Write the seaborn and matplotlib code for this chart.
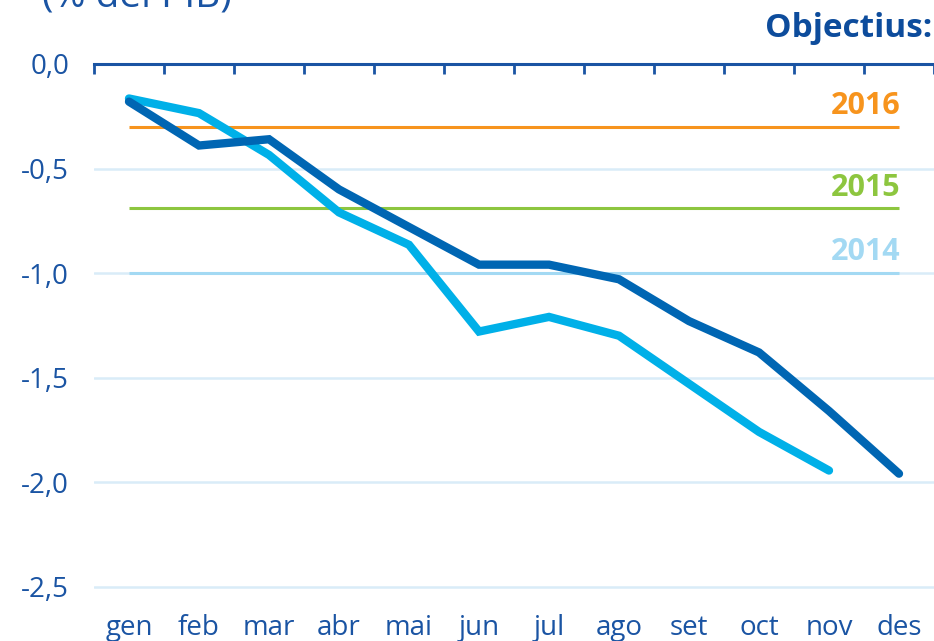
import numpy as np
import pandas as pd
import seaborn as sns
import matplotlib.pyplot as plt

# dades (% del PIB)
mesos = ['gen', 'feb', 'mar', 'abr', 'mai', 'jun', 'jul', 'ago', 'set', 'oct', 'nov', 'des']
serie_fosca = [-0.18, -0.39, -0.36, -0.60, -0.78, -0.96, -0.96, -1.03, -1.23, -1.38, -1.66, -1.96]
serie_clara = [-0.165, -0.235, -0.435, -0.71, -0.865, -1.28, -1.21, -1.30, -1.53, -1.76, -1.945, np.nan]
objectius_any = ['2016', '2015', '2014']
objectius_val = [-0.30, -0.69, -1.00]
objectius_col = ['#f7941d', '#8dc63f', '#a3d9f3']

blau_text = '#1a54a3'

df = pd.DataFrame({
    'pos': list(range(len(mesos))) * 2,
    'valor': serie_fosca + serie_clara,
    'serie': ['fosca'] * len(mesos) + ['clara'] * len(mesos),
}).dropna()

sns.set_theme(style='white')
plt.rcParams['font.family'] = ['Open Sans', 'DejaVu Sans']

fig = plt.figure(figsize=(9.34, 6.41), dpi=100)
ax = fig.add_axes([94 / 934, 1 - 597 / 641, 840 / 934, (597 - 64) / 641])

# línies d'objectiu
for nom, v, c in zip(objectius_any, objectius_val, objectius_col):
    ax.hlines(v, 0, len(mesos) - 1, color=c, lw=2.2, zorder=2)
    ax.annotate(nom, (len(mesos) - 1, v), xytext=(1, 4), textcoords='offset points',
                ha='right', va='bottom', color=c, fontsize=22, fontweight='bold')

sns.lineplot(data=df, x='pos', y='valor', hue='serie', sort=False,
             palette={'fosca': '#0066b3', 'clara': '#00b0e8'},
             hue_order=['clara', 'fosca'], lw=6, legend=False, ax=ax, zorder=3)
for ln in ax.lines:
    ln.set_solid_capstyle('round')
    ln.set_solid_joinstyle('miter')

ax.set_xlim(-0.5, len(mesos) - 0.5)
ax.set_ylim(-2.55, 0)
ax.set_yticks(np.arange(0, -2.51, -0.5))
ax.set_yticklabels([f'{t:.1f}'.replace('.', ',') for t in np.arange(0, -2.51, -0.5)])
ax.set_xticks(range(len(mesos)))
ax.set_xticklabels(mesos)
ax.set_xticks(np.arange(-0.5, len(mesos)), minor=True)
ax.set_xlabel('')
ax.set_ylabel('')

for s in ['left', 'right', 'bottom']:
    ax.spines[s].set_visible(False)
ax.spines['top'].set_color(blau_text)
ax.spines['top'].set_linewidth(2.2)

ax.tick_params(axis='x', which='major', length=0, pad=12, labelsize=20, labelcolor=blau_text)
ax.tick_params(axis='x', which='minor', top=True, bottom=False, direction='in',
               length=7, width=2, color=blau_text)
ax.tick_params(axis='y', length=0, pad=18, labelsize=20, labelcolor=blau_text)
ax.grid(axis='y', color='#d9ecf8', lw=1.8)
ax.set_axisbelow(True)

fig.text(42 / 934, 1 - 7 / 641, '(% del PIB)', color=blau_text, fontsize=28,
         ha='left', va='baseline')
fig.text(932 / 934, 1 - 37 / 641, 'Objectius:', color='#0d4c9c', fontsize=24,
         fontweight='bold', ha='right', va='baseline')

fig.savefig('out.png', dpi=100)
